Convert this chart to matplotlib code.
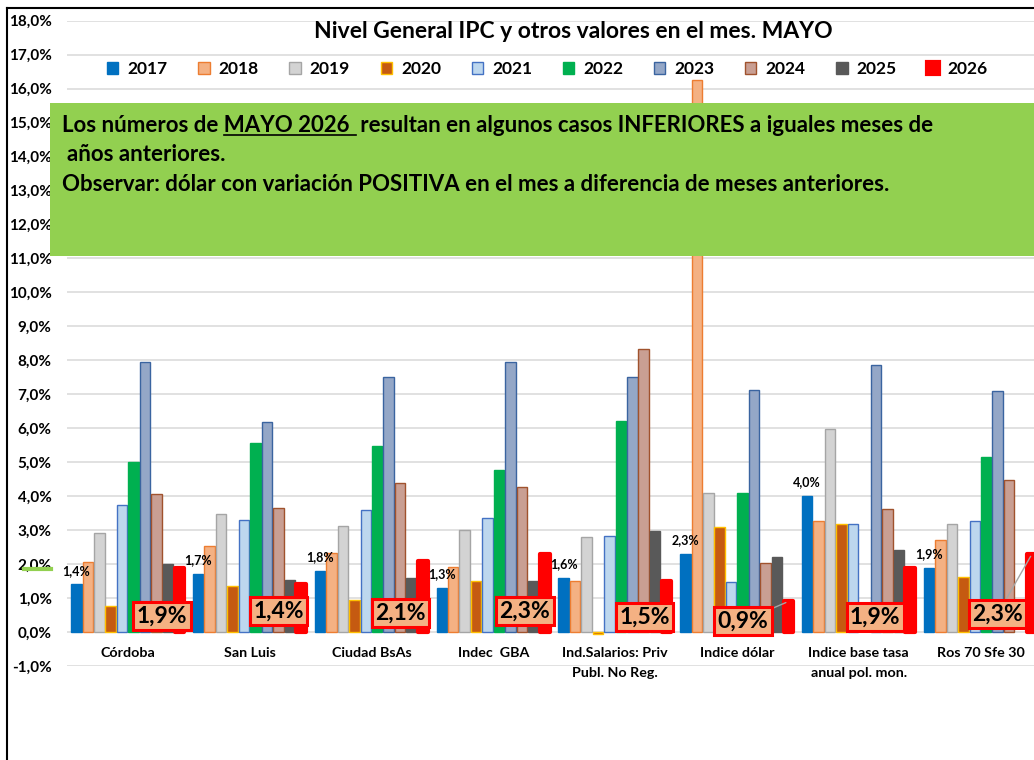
import numpy as np
import matplotlib
matplotlib.use("Agg")
import matplotlib.pyplot as plt
from matplotlib.patches import Rectangle
from matplotlib.lines import Line2D

plt.rcParams['font.family'] = ['Lato', 'DejaVu Sans']
plt.rcParams['font.weight'] = 'bold'

# Data (monthly variation, %)
categories = ["Córdoba", "San Luis", "Ciudad BsAs", "Indec  GBA",
              "Ind.Salarios: Priv\nPubl. No Reg.", "Indice dólar",
              "Indice base tasa\nanual pol. mon.", "Ros 70 Sfe 30"]
years = ["2017", "2018", "2019", "2020", "2021",
         "2022", "2023", "2024", "2025", "2026"]

v2017 = [1.4, 1.7, 1.8, 1.3, 1.6, 2.3, 4.0, 1.9]
v2018 = [2.07, 2.52, 2.32, 1.91, 1.50, 16.25, 3.26, 2.70]
v2019 = [2.93, 3.47, 3.13, 3.01, 2.81, 4.09, 5.97, 3.18]
v2020 = [0.76, 1.36, 0.94, 1.50, -0.07, 3.08, 3.17, 1.61]
v2021 = [3.75, 3.31, 3.60, 3.37, 2.84, 1.46, 3.17, 3.27]
v2022 = [5.01, 5.58, 5.48, 4.77, 6.22, 4.08, np.nan, 5.14]
v2023 = [7.95, 6.19, 7.51, 7.95, 7.51, 7.12, 7.87, 7.11]
v2024 = [4.07, 3.64, 4.39, 4.28, 8.33, 2.04, 3.63, 4.49]
v2025 = [1.99, 1.53, 1.60, 1.49, 2.98, 2.20, 2.42, np.nan]
v2026 = [1.9, 1.4, 2.1, 2.3, 1.5, 0.9, 1.9, 2.3]

series = [v2017, v2018, v2019, v2020, v2021, v2022, v2023, v2024, v2025, v2026]

face = ['#0070C0', '#F4B183', '#D3D3D3', '#C55A11', '#BDD7EE',
        '#00B050', '#94A7C7', '#C99F93', '#595959', '#FF0000']
edge = ['#0070C0', '#ED7D31', '#A5A5A5', '#FFC000', '#4472C4',
        '#00B050', '#3A64A0', '#A0522D', '#595959', '#FF0000']

# where the 2026 boxes sit (offset from group centre, y position)
box_dx = [0.279, 0.238, 0.236, 0.26, 0.243, 0.048, 0.136, 0.141]
box_y = [0.47, 0.62, 0.56, 0.62, 0.44, 0.32, 0.44, 0.53]
leader = [False, False, False, False, False, True, False, True]

W, H = 1034, 760
fig = plt.figure(figsize=(W / 100, H / 100), dpi=100)
ax = fig.add_axes([67 / W, 1 - 666 / H, 974.4 / W, 645.3 / H])

x = np.arange(len(categories))
pitch = 0.094
handles = []
for k, (yr, vals) in enumerate(zip(years, series)):
    pos = x + (k - 4.5) * pitch
    if yr == "2026":
        b = ax.bar(pos, vals, width=0.078, color=face[k], edgecolor=edge[k],
                   linewidth=3.0, joinstyle='round', zorder=2, label=yr)
    else:
        b = ax.bar(pos, vals, width=0.086, color=face[k], edgecolor=edge[k],
                   linewidth=1.0, zorder=2, label=yr)
    handles.append(b)

# 2017 value labels
for i, v in enumerate(v2017):
    ax.annotate(f"{v:.1f}%".replace('.', ','), (x[i] - 4.5 * pitch, v),
                xytext=(0, 10), textcoords='offset points',
                ha='center', va='center', fontsize=9, zorder=4)

# 2026 value labels in boxes
for i, v in enumerate(v2026):
    xr = x[i] + 4.5 * pitch
    ap = dict(arrowstyle='-', color='#A6A6A6', lw=1.0, shrinkA=0, shrinkB=2) if leader[i] else None
    ax.annotate(f"{v:.1f}%".replace('.', ','), (xr, v),
                xytext=(x[i] + box_dx[i], box_y[i]), textcoords='data',
                ha='center', va='center', fontsize=16.5, zorder=5,
                bbox=dict(boxstyle='square,pad=0.15', fc='#F4B183', ec='#FF0000', lw=2.2),
                arrowprops=ap)

# category labels, one line at a time
for i, c in enumerate(categories):
    for j, part in enumerate(c.split("\n")):
        ax.text(x[i], -0.74 - j * 0.575, part, ha='center', va='baseline', fontsize=10.3)

ax.set_xlim(-0.5, 7.5)
ax.set_ylim(-1, 18)
yt = np.arange(-1, 19)
ax.set_yticks(yt)
ax.set_yticklabels([f"{t:.1f}%".replace('.', ',') for t in yt], fontsize=11)
ax.set_xticks([])
ax.tick_params(axis='y', length=0, pad=11)
ax.grid(axis='y', color='#D9D9D9', lw=1.1)
ax.set_axisbelow(True)
for s in ax.spines.values():
    s.set_visible(False)

# title and legend
fig.text(573 / W, 1 - 38.3 / H, "Nivel General IPC y otros valores en el mes. MAYO",
         ha='center', va='baseline', fontsize=16.5)
fig.legend(handles, years, ncol=10, loc='center left',
           bbox_to_anchor=(107 / W, 1 - 69 / H), frameon=False, fontsize=12.5,
           handlelength=0.66, handleheight=0.7, handletextpad=0.52,
           columnspacing=1.76, borderpad=0, borderaxespad=0)

# green note box
fig.add_artist(Rectangle((50 / W, 1 - 256 / H), 1.0, 153.3 / H,
                         transform=fig.transFigure, fc='#92D050', ec='none', zorder=3))
fs_note = 16
line1 = "Los números de MAYO 2026  resultan en algunos casos INFERIORES a iguales meses de"
t1 = fig.text(62 / W, 1 - 132.3 / H, line1, fontsize=fs_note, va='baseline', zorder=4)
fig.text(67 / W, 1 - 161 / H, "años anteriores.", fontsize=fs_note, va='baseline', zorder=4)
fig.text(62 / W, 1 - 191 / H,
         "Observar: dólar con variación POSITIVA en el mes a diferencia de meses anteriores.",
         fontsize=fs_note, va='baseline', zorder=4)

r = fig.canvas.get_renderer()


def text_width(s):
    t = fig.text(0, 0, s, fontsize=fs_note)
    w = t.get_window_extent(r).width
    t.remove()
    return w


x0 = t1.get_window_extent(r).x0
u_start = x0 + text_width("Los números de M") - text_width("M")
u_end = x0 + text_width("Los números de MAYO 2026") + 6
fig.add_artist(Line2D([u_start / W, u_end / W], [1 - 134.8 / H] * 2,
                      transform=fig.transFigure, color='black', lw=1.2, zorder=4))

# frame and small green dash
fig.add_artist(Line2D([7 / W, 7 / W], [0, 1 - 8 / H], transform=fig.transFigure,
                      color='black', lw=1.5))
fig.add_artist(Line2D([7 / W, 1], [1 - 8 / H] * 2, transform=fig.transFigure,
                      color='black', lw=1.5))
fig.add_artist(Line2D([24 / W, 51 / W], [1 - 569 / H] * 2, transform=fig.transFigure,
                      color='#92D050', lw=3, zorder=4))

fig.savefig("out.png", dpi=100)
